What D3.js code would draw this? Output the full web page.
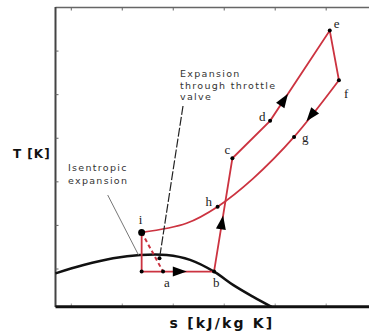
<!DOCTYPE html>
<html>
<head>
<meta charset="utf-8">
<script src="https://cdn.jsdelivr.net/npm/d3@7"></script>
<style>
body { margin: 0; background: #fff; }
svg { display: block; }
</style>
</head>
<body>
<script>
// state points of the cycle, s in tick units, T in tick units
const stateNames = ["a0", "a", "b", "c", "d", "e", "f", "g", "h", "i", "v"];
const stateS = [1.38, 1.80, 2.80, 3.16, 3.90, 5.07, 5.25, 4.37, 2.87, 1.38, 1.73];
const stateT = [-0.06, -0.06, -0.06, 2.54, 3.40, 5.47, 4.33, 3.03, 1.43, 0.84, 0.245];

// f -> g -> h -> i is a bent line, extra points read along it
const returnS = [5.25, 4.37, 3.57, 2.87, 2.26, 1.38];
const returnT = [4.33, 3.03, 2.08, 1.43, 1.05, 0.84];

// saturation dome
const domeS = [-0.31, 0.24, 0.82, 1.35, 1.87, 2.33, 2.80, 3.18, 3.57, 3.93];
const domeT = [-0.10, 0.09, 0.245, 0.32, 0.32, 0.21, -0.06, -0.37, -0.64, -0.87];

const labelNames = ["a", "b", "c", "d", "e", "f", "g", "h", "i"];
const xTicks = [0, 1, 2, 3, 4, 5];
const yTicks = [0, 1, 2, 3, 4, 5];

// arrows: [from, to, fraction along the segment]
const arrows = [["a0", "b", 0.52], ["b", "c", 0.43], ["d", "e", 0.23], ["f", "g", 0.62]];

const W = 369, H = 334;
const x = d3.scaleLinear().domain([-0.31, 5.84]).range([55.5, 369]);
const y = d3.scaleLinear().domain([-0.865, 6.0]).range([306.7, 7.5]);

const pt = {};
stateNames.forEach((n, k) => { pt[n] = [x(stateS[k]), y(stateT[k])]; });

const svg = d3.select("body").append("svg")
	.attr("width", W)
	.attr("height", H);

const red = "#cc3340";
const line = d3.line();

// frame
svg.append("line").attr("x1", 55.5).attr("y1", 7.5).attr("x2", W).attr("y2", 7.5)
	.attr("stroke", "#666").attr("stroke-width", 1.5);
svg.append("line").attr("x1", 55.5).attr("y1", 7).attr("x2", 55.5).attr("y2", 307)
	.attr("stroke", "#444").attr("stroke-width", 2);

svg.append("g").selectAll("line").data(xTicks).enter().append("line")
	.attr("x1", (d) => x(d)).attr("x2", (d) => x(d))
	.attr("y1", 7.5).attr("y2", 10.5)
	.attr("stroke", "#666");
svg.append("g").selectAll("line").data(xTicks).enter().append("line")
	.attr("x1", (d) => x(d)).attr("x2", (d) => x(d))
	.attr("y1", 306.7).attr("y2", 303.5)
	.attr("stroke", "#999");
svg.append("g").selectAll("line").data(yTicks).enter().append("line")
	.attr("x1", 55.5).attr("x2", 58.5)
	.attr("y1", (d) => y(d)).attr("y2", (d) => y(d))
	.attr("stroke", "#666");

// dome
svg.append("path")
	.attr("d", d3.line().curve(d3.curveCatmullRom)(domeS.map((s, k) => [x(s), y(domeT[k])])))
	.attr("fill", "none")
	.attr("stroke", "#111")
	.attr("stroke-width", 2.5);

svg.append("line").attr("x1", 55.5).attr("y1", 306.7).attr("x2", W).attr("y2", 306.7)
	.attr("stroke", "#111").attr("stroke-width", 3);

// cycle
svg.append("path")
	.attr("d", line([pt.i, pt.a0, pt.b, pt.c, pt.d, pt.e, pt.f]))
	.attr("fill", "none").attr("stroke", red).attr("stroke-width", 1.8);
svg.append("path")
	.attr("d", d3.line().curve(d3.curveCatmullRom)(returnS.map((s, k) => [x(s), y(returnT[k])])))
	.attr("fill", "none").attr("stroke", red).attr("stroke-width", 1.8);
svg.append("path")
	.attr("d", line([pt.i, pt.a]))
	.attr("fill", "none").attr("stroke", red).attr("stroke-width", 2)
	.attr("stroke-dasharray", "4,3");

// leader lines
svg.append("line").attr("x1", 183).attr("y1", 106).attr("x2", pt.v[0]).attr("y2", pt.v[1])
	.attr("stroke", "#222").attr("stroke-width", 1.2).attr("stroke-dasharray", "9,2");
svg.append("line").attr("x1", 107.7).attr("y1", 195).attr("x2", 138.5).attr("y2", 255)
	.attr("stroke", "#777").attr("stroke-width", 1);

// arrows
arrows.forEach(([p, q, f]) => {
	const [x0, y0] = pt[p], [x1, y1] = pt[q];
	const cx = x0 + (x1 - x0) * f, cy = y0 + (y1 - y0) * f;
	const ang = Math.atan2(y1 - y0, x1 - x0) * 180 / Math.PI;
	svg.append("path")
		.attr("d", "M7.5,0 L-6.5,-5 L-6.5,5 Z")
		.attr("transform", `translate(${cx},${cy}) rotate(${ang})`)
		.attr("fill", "#000");
});

// dots
svg.append("g").selectAll("circle")
	.data(["a0", "a", "b", "c", "d", "e", "f", "g", "h", "v"])
	.enter().append("circle")
	.attr("cx", (n) => pt[n][0]).attr("cy", (n) => pt[n][1])
	.attr("r", 2).attr("fill", "#000");
svg.append("circle").attr("cx", pt.i[0]).attr("cy", pt.i[1]).attr("r", 3.5).attr("fill", "#000");

// point labels
const labelDx = { a: 1, b: -1, c: -8, d: -11, e: 4, f: 5, g: 8, h: -12, i: -3 };
const labelDy = { a: 15, b: 15, c: -4, d: 0, e: -3, f: 18, g: 5, h: -1, i: -8 };
svg.append("g").selectAll("text").data(labelNames).enter().append("text")
	.attr("x", (n) => pt[n][0] + labelDx[n])
	.attr("y", (n) => pt[n][1] + labelDy[n])
	.attr("font-family", "Liberation Serif, serif")
	.attr("font-size", 13)
	.attr("fill", "#222")
	.text((n) => n);

// annotations
const note = svg.append("text")
	.attr("font-family", "DejaVu Sans, sans-serif")
	.attr("font-size", 9.5)
	.attr("letter-spacing", 1.3)
	.attr("fill", "#333");
["Expansion", "through throttle", "valve"].forEach((t, k) => {
	note.append("tspan").attr("x", 180).attr("y", 77 + k * 11.5).text(t);
});
const iso = svg.append("text")
	.attr("font-family", "DejaVu Sans, sans-serif")
	.attr("font-size", 9.5)
	.attr("letter-spacing", 1.3)
	.attr("fill", "#333");
["Isentropic", "expansion"].forEach((t, k) => {
	iso.append("tspan").attr("x", 68).attr("y", 171 + k * 12.5).text(t);
});

svg.append("text")
	.attr("x", 13).attr("y", 158)
	.attr("font-family", "DejaVu Sans, sans-serif")
	.attr("font-weight", "bold")
	.attr("font-size", 12)
	.attr("letter-spacing", 1)
	.attr("fill", "#111")
	.text("T [K]");
svg.append("text")
	.attr("x", 222).attr("y", 328)
	.attr("text-anchor", "middle")
	.attr("font-family", "DejaVu Sans, sans-serif")
	.attr("font-weight", "bold")
	.attr("font-size", 14)
	.attr("letter-spacing", 2.2)
	.attr("fill", "#111")
	.text("s [kJ/kg K]");
</script>
</body>
</html>
